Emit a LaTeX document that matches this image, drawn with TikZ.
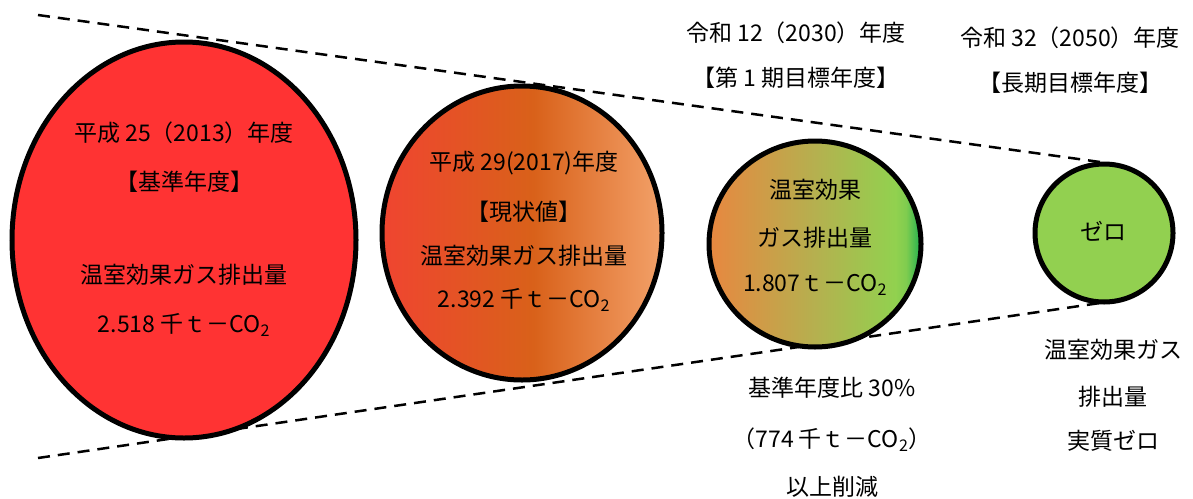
\documentclass[tikz,border=0pt]{standalone}
\usepackage{fontspec}
\newfontfamily\jp{Noto Sans CJK JP}
\usetikzlibrary{shapes.geometric}
\definecolor{bigred}{HTML}{FF3333}
\definecolor{zerogreen}{HTML}{92D050}
\pgfdeclarehorizontalshading{shadeB}{100bp}{rgb(0bp)=(0.94,0.27,0.19);
 rgb(25bp)=(0.94,0.27,0.19);
 rgb(52bp)=(0.85,0.38,0.10);
 rgb(75bp)=(0.95,0.63,0.41);
 rgb(100bp)=(0.95,0.63,0.41)}
\pgfdeclarehorizontalshading{shadeC}{100bp}{rgb(0bp)=(0.91,0.53,0.25);
 rgb(25bp)=(0.91,0.53,0.25);
 rgb(50bp)=(0.71,0.69,0.31);
 rgb(69bp)=(0.57,0.82,0.31);
 rgb(71.5bp)=(0.50,0.80,0.31);
 rgb(75bp)=(0.12,0.69,0.31);
 rgb(100bp)=(0.12,0.69,0.31)}
\tikzset{
  bubble/.style={ellipse, draw=black, line width=5pt, inner sep=0pt},
  lbl/.style={font=\jp\fontsize{23}{26}\selectfont, inner sep=0pt, anchor=center},
  guide/.style={line width=2.5pt, dash pattern=on 12pt off 8pt}
}
\begin{document}
\begin{tikzpicture}[x=1pt,y=-1pt]
\useasboundingbox (0,0) rectangle (1193,498);
% guide lines
\coordinate (t0) at (38,15);
\coordinate (t1) at (1100,162);
\coordinate (b0) at (38,458);
\coordinate (b1) at (1100,303);
\draw[guide] (t0) -- (t1);
\draw[guide] (b0) -- (b1);
% bubbles
\node[bubble, fill=bigred, minimum width=344pt, minimum height=396pt] (e1) at (184,240) {};
\node[bubble, shading=shadeB, minimum width=280pt, minimum height=294pt] (e2) at (522,233) {};
\node[bubble, shading=shadeC, minimum width=212pt, minimum height=206pt] (e3) at (815,244) {};
\node[bubble, fill=zerogreen, minimum width=138pt, minimum height=138pt] (e4) at (1104,233) {};
% texts in bubble 1
\node[lbl] (a1) at (184,133) {平成 25（2013）年度};
\node[lbl] (a2) at (184,182) {【基準年度】};
\node[lbl] (a3) at (184,275) {温室効果ガス排出量};
\node[lbl] (a4) at (184,325) {2.518 千ｔ－CO\textsubscript{2}};
% bubble 2
\node[lbl] (b1t) at (524,163) {平成 29(2017)年度};
\node[lbl] (b2t) at (524,212) {【現状値】};
\node[lbl] (b3t) at (524,256) {温室効果ガス排出量};
\node[lbl] (b4t) at (524,300) {2.392 千ｔ－CO\textsubscript{2}};
% bubble 3
\node[lbl] (c1) at (815,190) {温室効果};
\node[lbl] (c2) at (815,238) {ガス排出量};
\node[lbl] (c3) at (815,285) {1.807ｔ－CO\textsubscript{2}};
% bubble 4
\node[lbl] (d1) at (1103,231) {ゼロ};
% top labels
\node[lbl] (u1) at (796,33) {令和 12（2030）年度};
\node[lbl] (u2) at (796,78) {【第 1 期目標年度】};
\node[lbl] (v1) at (1070,38) {令和 32（2050）年度};
\node[lbl] (v2) at (1070,83) {【長期目標年度】};
% bottom labels
\node[lbl] (w1) at (832,388) {基準年度比 30\%};
\node[lbl] (w2) at (832,440) {（774 千ｔ－CO\textsubscript{2}）};
\node[lbl] (w3) at (832,487) {以上削減};
\node[lbl] (z1) at (1113,350) {温室効果ガス};
\node[lbl] (z2) at (1113,397) {排出量};
\node[lbl] (z3) at (1113,441) {実質ゼロ};
\end{tikzpicture}
\end{document}
